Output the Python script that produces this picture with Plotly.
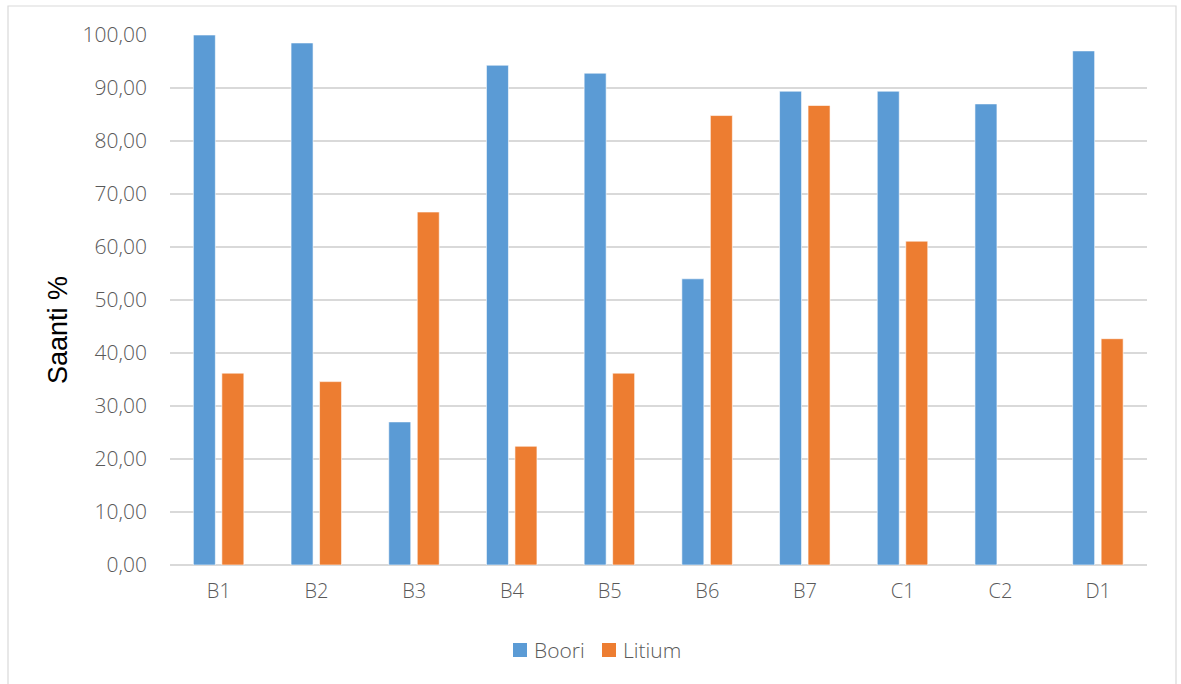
import plotly.graph_objects as go

categories = ["B1", "B2", "B3", "B4", "B5", "B6", "B7", "C1", "C2", "D1"]
boori = [100.0, 98.5, 27.0, 94.3, 92.8, 54.0, 89.4, 89.4, 87.0, 97.0]
litium = [36.2, 34.6, 66.6, 22.4, 36.2, 84.8, 86.7, 61.1, None, 42.7]
y_ticks = [0, 10, 20, 30, 40, 50, 60, 70, 80, 90, 100]
series_names = ["Boori", "Litium"]

BLUE = "#5B9BD5"
ORANGE = "#ED7D31"
TEXT = "#595959"
GRID = "#D9D9D9"
FONT = "Open Sans"
WEIGHT = 300

# layout geometry in pixels
L, R, T, B, W, H = 170, 34, 35, 119, 1181, 684
pw, ph = W - L - R, H - T - B
def px_x(v):
    return (v - L) / pw
def px_y(v):
    return (H - B - v) / ph

# bar width / offset in category units
cat_px = pw / len(categories)
bar_w = 22 / cat_px

fig = go.Figure()
fig.add_trace(go.Bar(name="Boori", x=categories, y=boori, showlegend=False,
                     width=bar_w, offset=-25.5 / cat_px,
                     marker=dict(color=BLUE, line=dict(color="#FFFFFF", width=0.6))))
fig.add_trace(go.Bar(name="Litium", x=categories, y=litium, showlegend=False,
                     width=bar_w, offset=3.0 / cat_px,
                     marker=dict(color=ORANGE, line=dict(color="#FFFFFF", width=0.6))))

# outer chart frame
fig.add_shape(type="rect", xref="paper", yref="paper",
              x0=px_x(8), x1=px_x(1176), y0=px_y(700), y1=px_y(6),
              line=dict(color="#D9D9D9", width=1.2), fillcolor="rgba(0,0,0,0)", layer="below")

# legend keys and labels
for name, color, sq_x in zip(series_names, (BLUE, ORANGE), (513, 602)):
    fig.add_shape(type="rect", xref="paper", yref="paper",
                  x0=px_x(sq_x), x1=px_x(sq_x + 14), y0=px_y(657), y1=px_y(643),
                  line=dict(width=0), fillcolor=color)
    fig.add_annotation(xref="paper", yref="paper", x=px_x(sq_x + 19), y=px_y(650),
                       xanchor="left", yanchor="middle", showarrow=False, text=name,
                       font=dict(family=FONT, size=21, color=TEXT, weight=WEIGHT))

# y-axis title
fig.add_annotation(xref="paper", yref="paper", x=px_x(58), y=px_y(330),
                   xanchor="center", yanchor="middle", showarrow=False, textangle=-90,
                   text="Saanti %",
                   font=dict(family="Liberation Sans, Arial", size=27, color="#000000"))

fig.update_layout(
    width=W, height=H,
    margin=dict(l=L, r=R, t=T, b=B),
    paper_bgcolor="white", plot_bgcolor="white",
    barmode="overlay",
    separators=",.",
    font=dict(family=FONT, color=TEXT, size=21),
    showlegend=False,
    xaxis=dict(showgrid=False, zeroline=False, showline=False, ticks="",
               tickfont=dict(family=FONT, size=20, color=TEXT, weight=WEIGHT),
               ticklabelstandoff=12, fixedrange=True),
    yaxis=dict(range=[0, 100], tickvals=y_ticks, tickformat=".2f",
               showgrid=True, gridcolor=GRID, gridwidth=1.5,
               zeroline=True, zerolinecolor=GRID, zerolinewidth=1.5,
               showline=False, ticks="",
               tickfont=dict(family=FONT, size=21, color=TEXT, weight=WEIGHT),
               ticklabelstandoff=22),
)

fig.write_html("out.html")
